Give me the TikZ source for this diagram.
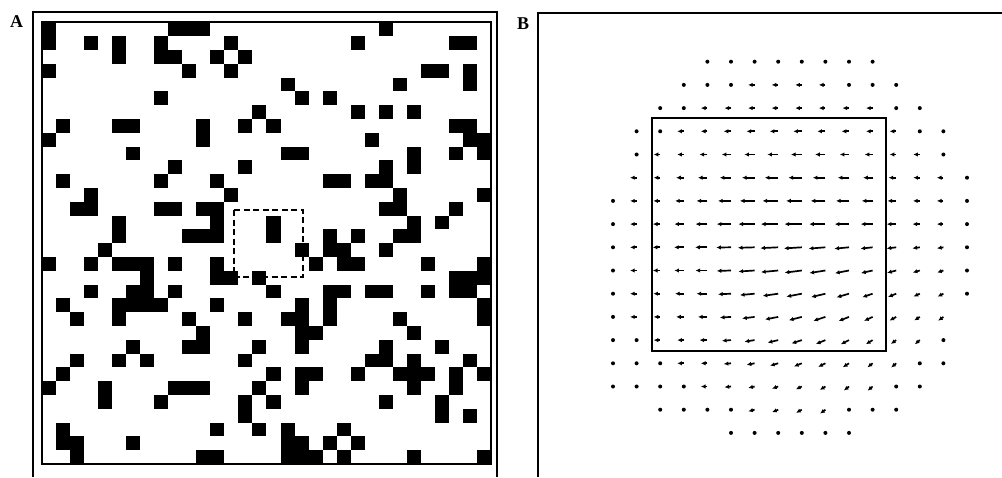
\documentclass[tikz,border=0pt]{standalone}
\usepackage{fontspec}
\setmainfont{Liberation Serif}
\usepackage{tikz}
\usetikzlibrary{arrows.meta}

\begin{document}
\begin{tikzpicture}[x=1pt, y=-1pt,
  frame/.style={draw=black, line width=2pt},
  inner/.style={draw=black, line width=1.6pt},
  cell/.style={fill=black},
  probe/.style={draw=black, line width=1.2pt, dash pattern=on 6pt off 3.5pt},
  vec/.style={line width=1.7pt, -{Latex[length=4.6pt,width=4.4pt]}},
  lbl/.style={font=\bfseries\fontsize{18}{20}\selectfont, inner sep=0pt}
]
\useasboundingbox (0,0) rectangle (1002,477);
% panel A: the lattice
\node[lbl] (labA) at (16.5,22) {A};
\draw[frame] (33,477) -- (33,12) -- (497,12) -- (497,477);
\draw[inner] (42,22) rectangle (491,464);
\foreach \r/\cl in {0/{0,9,10,11,24}, 1/{0,3,5,8,13,22,29,30}, 2/{5,8,9,12,14},
  3/{0,10,13,27,28,30}, 4/{17,25,30}, 5/{8,18,20}, 6/{15,22,24,26},
  7/{1,5,6,11,14,16,29,30}, 8/{0,11,23,30,31}, 9/{6,17,18,26,29,31},
  10/{9,14,24,26}, 11/{1,8,12,20,21,23,24}, 12/{3,13,25,31},
  13/{2,3,8,9,11,12,24,25,29}, 14/{5,12,16,26,28}, 15/{5,10,11,12,16,20,22,25,26},
  16/{4,18,20,21,24}, 17/{0,3,5,6,7,9,12,19,21,22,27,31}, 18/{7,12,13,15,29,30,31},
  19/{3,6,7,9,16,20,21,23,24,27,29,30}, 20/{1,5,6,7,8,12,18,20,31},
  21/{2,5,10,14,17,18,20,25,31}, 22/{11,18,19,26}, 23/{6,10,11,15,18,24,28},
  24/{2,5,7,14,23,24,26,30}, 25/{1,16,18,19,22,25,26,27,29,31},
  26/{0,4,9,10,11,15,18,26,29}, 27/{4,8,14,16,24,28}, 28/{14,28,30},
  29/{1,12,15,17,21}, 30/{1,2,6,17,18,20,22}, 31/{2,11,12,17,18,19,21,26,31}}{
  \foreach \c in \cl
    \fill[cell] (42+\c*14.03, 22.3+\r*13.8) rectangle ++(14.03,13.8);
}
\draw[probe] (234,210) rectangle (303,277);
% panel B: the field
\node[lbl] (labB) at (523,23.5) {B};
\draw[frame] (538,477) -- (538,13) -- (1002,13);
\draw[inner] (652,118) rectangle (886,351);
\foreach \r/\a/\b in {0/4/11, 1/3/12, 2/2/13, 3/1/14, 4/1/14, 5/1/15, 6/0/15,
  7/0/15, 8/0/15, 9/0/15, 10/0/15, 11/0/14, 12/0/14, 13/0/14, 14/0/13,
  15/2/12, 16/5/10}{
  \foreach \c in {\a,...,\b}{
    \pgfmathsetmacro\px{613+\c*23.6}
    \pgfmathsetmacro\py{61.7+\r*23.2}
    \pgfmathsetmacro\len{3+15*exp(-((\c-7.5)^2+(\r-8)^2)/25)}
    \pgfmathsetmacro\ang{min(40,0.9*max(0,\r-7)*max(0,\c-4))}
    \pgfmathsetmacro\lv{max(6.5,\len)}
    \ifdim\len pt<4.8pt
      \fill (\px,\py) circle (2pt);
    \else
      \draw[vec] (\px,\py) -- ++({-\lv*cos(\ang)},{\lv*sin(\ang)});
    \fi
  }
}
\end{tikzpicture}
\end{document}
